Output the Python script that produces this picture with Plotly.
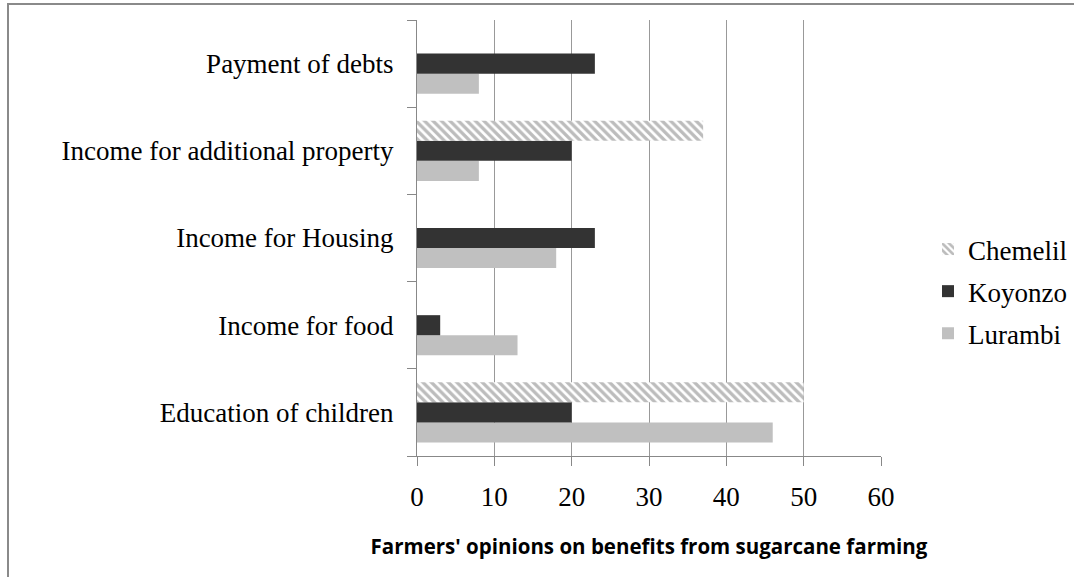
import plotly.graph_objects as go

categories = ["Education of children", "Income for food", "Income for Housing",
              "Income for additional property", "Payment of debts"]
lurambi = [46, 13, 18, 8, 8]
koyonzo = [20, 3, 23, 20, 23]
chemelil = [50, None, None, 37, None]
x_ticks = [0, 10, 20, 30, 40, 50, 60]
x_title = "Farmers' opinions on benefits from sugarcane farming"

SERIF = "Liberation Serif"

fig = go.Figure()
fig.add_trace(go.Bar(y=categories, x=lurambi, orientation="h", name="Lurambi",
                     legendgroup="c", legendrank=3,
                     marker=dict(color="#c0c0c0", line=dict(width=0))))
fig.add_trace(go.Bar(y=categories, x=koyonzo, orientation="h", name="Koyonzo",
                     legendgroup="b", legendrank=2,
                     marker=dict(color="#333333", line=dict(width=0))))
fig.add_trace(go.Bar(y=categories, x=chemelil, orientation="h", name="Chemelil",
                     legendgroup="a", legendrank=1,
                     marker=dict(color="white", line=dict(width=0),
                                 pattern=dict(shape="\\", fgcolor="#7a7a7a", bgcolor="white",
                                              size=6, solidity=0.55))))

L, R, T, B = 417, 881, 20, 456
W, H = 1074, 577

fig.update_layout(
    width=W, height=H,
    margin=dict(l=L, r=W - R, t=T, b=H - B, autoexpand=False),
    paper_bgcolor="white", plot_bgcolor="white",
    barmode="group", bargap=0.31, bargroupgap=0,
    font=dict(family=SERIF, size=27, color="black"),
    showlegend=True,
    legend=dict(x=(928 - L) / (R - L), xanchor="left", y=(B - 225) / (B - T), yanchor="top",
                traceorder="grouped", tracegroupgap=4,
                font=dict(family=SERIF, size=27, color="black"),
                bgcolor="rgba(0,0,0,0)"),
    xaxis=dict(range=[0, 60], tickvals=x_ticks, ticktext=[str(v) for v in x_ticks],
               showgrid=True, gridcolor="#999999", gridwidth=1,
               showline=True, linecolor="#888888", linewidth=1,
               ticks="outside", ticklen=9, tickcolor="#888888",
               ticklabelstandoff=8, zeroline=False,
               tickfont=dict(family=SERIF, size=27),
               title=dict(text=x_title, standoff=28,
                          font=dict(family="Open Sans", size=20.5, color="black",
                                    weight="bold"))),
    yaxis=dict(type="category", categoryorder="array", categoryarray=categories,
               showgrid=False, showline=True, linecolor="#888888", linewidth=1,
               ticks="outside", ticklen=9, tickcolor="#888888", tickson="boundaries",
               ticklabelstandoff=17, tickfont=dict(family=SERIF, size=27)),
    shapes=[dict(type="rect", xref="paper", yref="paper",
                 x0=(8 - L) / (R - L), x1=(W + 20 - L) / (R - L),
                 y0=(B - (H + 20)) / (B - T), y1=(B - 4) / (B - T),
                 line=dict(color="#8a8a8a", width=2), fillcolor="rgba(0,0,0,0)",
                 layer="below")],
)

fig.write_html("out.html")
